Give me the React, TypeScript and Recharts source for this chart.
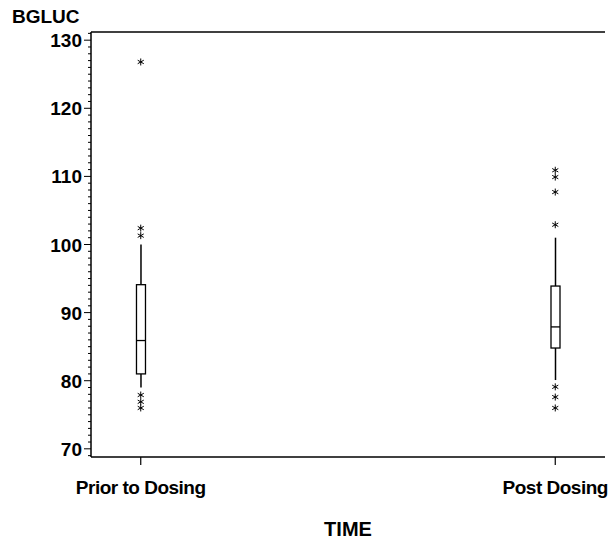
import { ComposedChart, Bar, Scatter, XAxis, YAxis } from 'recharts';

// box summaries (BGLUC by TIME)
const categories = ['Prior to Dosing', 'Post Dosing'];
const positions = [0, 1];
const whiskerLow = [79.0, 80.1];
const q1 = [81.0, 84.8];
const median = [85.9, 87.9];
const q3 = [94.1, 93.9];
const whiskerHigh = [100.0, 101.0];

// outliers drawn as asterisks
const priorOutliers = [126.8, 102.4, 101.3, 77.9, 76.9, 76.0];
const postOutliers = [110.9, 109.9, 107.7, 102.9, 79.1, 77.6, 76.0];

// every unit gets a minor tick, multiples of 10 get a label
const yTicks = Array.from({ length: 63 }, (_, i) => 69 + i);

const FONT = '"Liberation Sans", Arial, Helvetica, sans-serif';

const boxData = positions.map((pos, i) => ({
  pos,
  label: categories[i],
  lo: whiskerLow[i],
  q1: q1[i],
  med: median[i],
  q3: q3[i],
  hi: whiskerHigh[i],
}));

const outlierData = [
  ...priorOutliers.map(v => ({ pos: positions[0], value: v })),
  ...postOutliers.map(v => ({ pos: positions[1], value: v })),
];

const BoxShape = (props: any) => {
  const { x, y, width, height, payload } = props;
  if (height == null || !payload) return null;
  const k = height / (payload.hi - payload.lo);
  const py = (v: number) => y + (payload.hi - v) * k;
  const cx = x + width / 2;
  return (
    <g>
      <line x1={cx} x2={cx} y1={py(payload.hi)} y2={py(payload.q3)} stroke="#000" strokeWidth={1.5} />
      <line x1={cx} x2={cx} y1={py(payload.q1)} y2={py(payload.lo)} stroke="#000" strokeWidth={1.5} />
      <rect x={x} y={py(payload.q3)} width={width} height={py(payload.q1) - py(payload.q3)} fill="#fff" stroke="#000" strokeWidth={1.3} />
      <line x1={x} x2={x + width} y1={py(payload.med)} y2={py(payload.med)} stroke="#000" strokeWidth={1.3} />
    </g>
  );
};

const Asterisk = (props: any) => {
  const { cx, cy } = props;
  if (cx == null || cy == null) return null;
  const r = 3.5;
  const dx = r * 0.87;
  const dy = r * 0.5;
  return (
    <g stroke="#000" strokeWidth={1}>
      <line x1={cx} x2={cx} y1={cy - r} y2={cy + r} />
      <line x1={cx - dx} x2={cx + dx} y1={cy - dy} y2={cy + dy} />
      <line x1={cx - dx} x2={cx + dx} y1={cy + dy} y2={cy - dy} />
    </g>
  );
};

const YTick = (props: any) => {
  const { x, y, payload } = props;
  const major = payload.value % 10 === 0;
  return (
    <g>
      <line x1={x} x2={x - (major ? 7 : 3)} y1={y} y2={y} stroke="#000" strokeWidth={1} />
      {major && (
        <text x={x - 9} y={y + 7} textAnchor="end" fontFamily={FONT} fontWeight="bold" fontSize={19} fill="#000">
          {payload.value}
        </text>
      )}
    </g>
  );
};

const XTick = (props: any) => {
  const { x, y, payload } = props;
  const idx = positions.indexOf(payload.value);
  return (
    <text x={x} y={y + 29} textAnchor="middle" fontFamily={FONT} fontWeight="bold" fontSize={19} letterSpacing={-0.5} fill="#000">
      {categories[idx]}
    </text>
  );
};

const YTitle = (props: any) => {
  const { viewBox } = props;
  return (
    <text x={viewBox.x + 12} y={viewBox.y - 9} fontFamily={FONT} fontWeight="bold" fontSize={19} fill="#000">
      BGLUC
    </text>
  );
};

export default function App() {
  return (
    <div style={{ position: 'absolute', left: 0, top: 0, background: '#fff' }}>
      <ComposedChart
        width={611}
        height={541}
        data={boxData}
        margin={{ top: 31, right: 6, bottom: 0, left: 0 }}
      >
        <XAxis
          xAxisId="main"
          dataKey="pos"
          type="number"
          domain={[-0.12, 1.12]}
          ticks={positions}
          allowDataOverflow
          height={84}
          tickSize={8}
          tickMargin={0}
          tick={<XTick />}
          axisLine={{ stroke: '#000', strokeWidth: 1.5 }}
          tickLine={{ stroke: '#000', strokeWidth: 1.2 }}
          label={{ value: 'TIME', position: 'insideBottom', offset: 5, fontFamily: FONT, fontWeight: 'bold', fontSize: 20, fill: '#000' }}
        />
        <XAxis
          xAxisId="top"
          dataKey="pos"
          orientation="top"
          type="number"
          domain={[-0.12, 1.12]}
          allowDataOverflow
          height={1}
          tick={false}
          tickLine={false}
          axisLine={{ stroke: '#000', strokeWidth: 1.5 }}
        />
        <YAxis
          yAxisId="main"
          type="number"
          domain={[68.8, 131.2]}
          ticks={yTicks}
          interval={0}
          allowDataOverflow
          width={91}
          tickSize={0}
          tickMargin={0}
          tickLine={false}
          tick={<YTick />}
          axisLine={{ stroke: '#000', strokeWidth: 1.5 }}
          label={<YTitle />}
        />
        <YAxis
          yAxisId="right"
          orientation="right"
          type="number"
          domain={[68.8, 131.2]}
          allowDataOverflow
          width={0}
          tick={false}
          tickLine={false}
          axisLine={{ stroke: '#000', strokeWidth: 1.5 }}
        />
        <Bar
          xAxisId="main"
          yAxisId="main"
          dataKey={(d: any) => [d.lo, d.hi]}
          barSize={9}
          shape={<BoxShape />}
          isAnimationActive={false}
        />
        <Scatter
          xAxisId="main"
          yAxisId="main"
          data={outlierData}
          dataKey="value"
          shape={<Asterisk />}
          isAnimationActive={false}
        />
      </ComposedChart>
    </div>
  );
}
